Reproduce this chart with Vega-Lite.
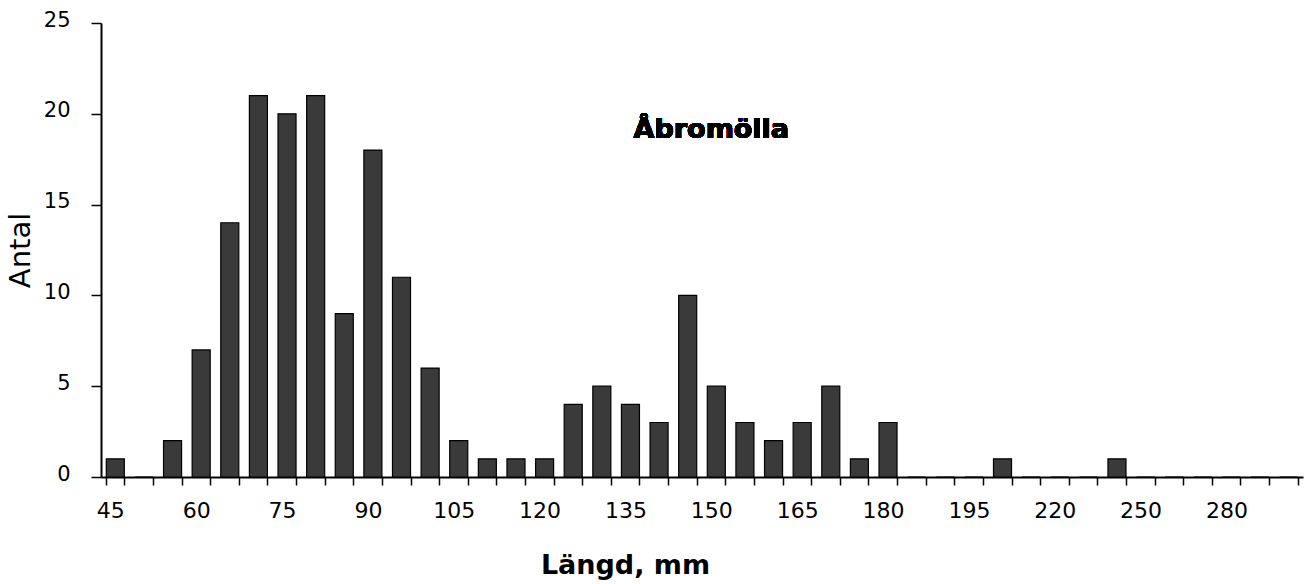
{
  "$schema": "https://vega.github.io/schema/vega-lite/v6.json",
  "autosize": "none",
  "padding": {"left": 101, "top": 23, "right": 11, "bottom": 107},
  "width": 1202,
  "height": 454,
  "background": "white",
  "config": {
    "view": {"stroke": null},
    "font": "DejaVu Sans"
  },
  "data": {
    "values": [
      {"mm": 45, "n": 1}, {"mm": 50, "n": 0}, {"mm": 55, "n": 2}, {"mm": 60, "n": 7},
      {"mm": 65, "n": 14}, {"mm": 70, "n": 21}, {"mm": 75, "n": 20}, {"mm": 80, "n": 21},
      {"mm": 85, "n": 9}, {"mm": 90, "n": 18}, {"mm": 95, "n": 11}, {"mm": 100, "n": 6},
      {"mm": 105, "n": 2}, {"mm": 110, "n": 1}, {"mm": 115, "n": 1}, {"mm": 120, "n": 1},
      {"mm": 125, "n": 4}, {"mm": 130, "n": 5}, {"mm": 135, "n": 4}, {"mm": 140, "n": 3},
      {"mm": 145, "n": 10}, {"mm": 150, "n": 5}, {"mm": 155, "n": 3}, {"mm": 160, "n": 2},
      {"mm": 165, "n": 3}, {"mm": 170, "n": 5}, {"mm": 175, "n": 1}, {"mm": 180, "n": 3},
      {"mm": 185, "n": 0}, {"mm": 190, "n": 0}, {"mm": 195, "n": 0}, {"mm": 200, "n": 1},
      {"mm": 210, "n": 0}, {"mm": 220, "n": 0}, {"mm": 230, "n": 0}, {"mm": 240, "n": 1},
      {"mm": 250, "n": 0}, {"mm": 260, "n": 0}, {"mm": 270, "n": 0}, {"mm": 280, "n": 0},
      {"mm": 290, "n": 0}, {"mm": 300, "n": 0}
    ]
  },
  "layer": [
    {
      "mark": {"type": "bar", "fill": "#3a3a3a", "stroke": "black", "strokeWidth": 1.2},
      "encoding": {
        "x": {
          "field": "mm",
          "type": "ordinal",
          "scale": {"paddingInner": 0.37, "paddingOuter": 0.185},
          "axis": {
            "title": "Längd, mm",
            "titleFont": "DejaVu Sans",
            "titleFontSize": 27,
            "titleFontWeight": "bold",
            "titleColor": "black",
            "titleX": 524,
            "titleY": 96,
            "titleAlign": "center",
            "titleBaseline": "alphabetic",
            "labelAngle": 0,
            "labelFont": "DejaVu Sans",
            "labelFontSize": 22,
            "labelColor": "black",
            "labelPadding": 15,
            "labelOffset": -5,
            "labelExpr": "indexof(['45','60','75','90','105','120','135','150','165','180','195','220','250','280'], datum.label) >= 0 ? datum.label : ''",
            "tickBand": "extent",
            "tickSize": 8,
            "tickColor": "black",
            "tickWidth": 1.5,
            "domainColor": "black",
            "domainWidth": 2,
            "grid": false
          }
        },
        "y": {
          "field": "n",
          "type": "quantitative",
          "scale": {"domain": [0, 25], "nice": false},
          "axis": {
            "title": "Antal",
            "titleFont": "DejaVu Sans",
            "titleFontSize": 29,
            "titleFontWeight": "normal",
            "titleColor": "black",
            "titlePadding": 8,
            "values": [0, 5, 10, 15, 20, 25],
            "labelFont": "DejaVu Sans",
            "labelFontSize": 21,
            "labelColor": "black",
            "labelPadding": 21,
            "labelOffset": -3,
            "tickSize": 10,
            "tickColor": "black",
            "tickWidth": 1.5,
            "domainColor": "black",
            "domainWidth": 2,
            "grid": false
          }
        }
      }
    },
    {
      "mark": {"type": "text", "font": "DejaVu Sans", "fontSize": 27, "fontWeight": "bold", "fill": "black", "align": "center", "baseline": "alphabetic", "dx": -5},
      "encoding": {
        "x": {"datum": 150, "type": "ordinal"},
        "y": {"datum": 18.67, "type": "quantitative"},
        "text": {"value": "Åbromölla"}
      }
    }
  ]
}
